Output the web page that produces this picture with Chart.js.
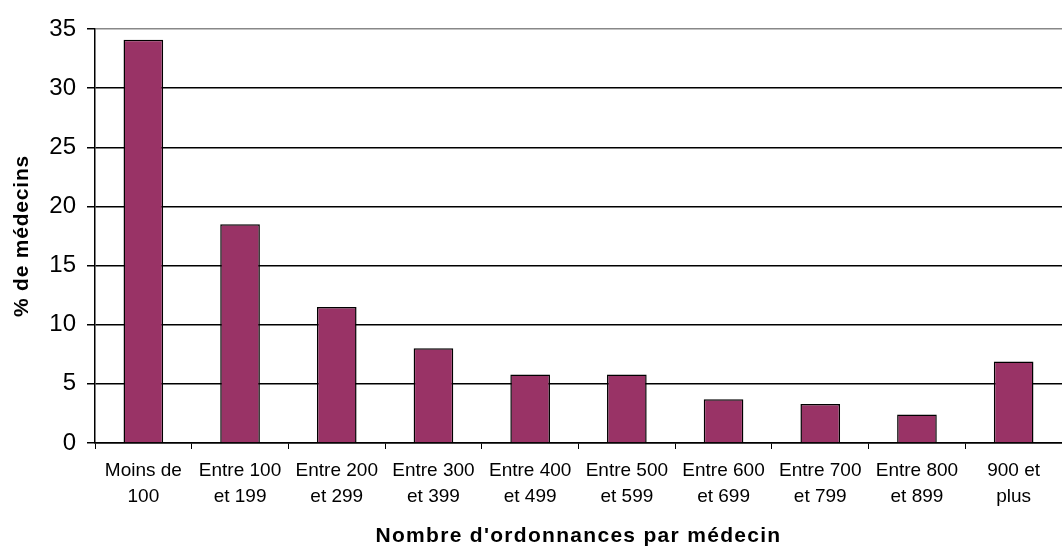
<!DOCTYPE html>
<html>
<head>
<meta charset="utf-8">
<script src="https://cdn.jsdelivr.net/npm/chart.js@4/dist/chart.umd.min.js"></script>
<style>
html,body{margin:0;padding:0;background:#fff;}
#wrap{width:1062px;height:547px;position:relative;}
</style>
</head>
<body>
<div id="wrap"><canvas id="c"></canvas></div>
<script>
const categories = [
  ["Moins de", "100"],
  ["Entre 100", "et 199"],
  ["Entre 200", "et 299"],
  ["Entre 300", "et 399"],
  ["Entre 400", "et 499"],
  ["Entre 500", "et 599"],
  ["Entre 600", "et 699"],
  ["Entre 700", "et 799"],
  ["Entre 800", "et 899"],
  ["900 et", "plus"]
];
const pctMedecins = [34.1, 18.5, 11.5, 8.0, 5.8, 5.8, 3.7, 3.3, 2.4, 6.9];
const yTitle = "% de médecins";
const xTitle = "Nombre d'ordonnances par médecin";

const FONT = "'Liberation Sans', Arial, sans-serif";

function spacedTitle(s, spacing) {
  if (s._spacedTitle) return;
  const orig = s.drawTitle.bind(s);
  s.drawTitle = function () {
    const ctx = this.ctx;
    ctx.save();
    ctx.letterSpacing = spacing;
    orig();
    ctx.restore();
  };
  s._spacedTitle = true;
}

new Chart(document.getElementById('c'), {
  type: 'bar',
  data: {
    labels: categories,
    datasets: [{
      data: pctMedecins,
      backgroundColor: '#993366',
      borderColor: '#000',
      borderWidth: 1.5,
      borderSkipped: 'start',
      barPercentage: 0.41,
      categoryPercentage: 1
    }]
  },
  options: {
    responsive: true,
    maintainAspectRatio: false,
    animation: false,
    layout: { padding: { top: 29, right: 0, left: 0, bottom: 0 } },
    plugins: { legend: { display: false }, tooltip: { enabled: false } },
    scales: {
      x: {
        offset: true,
        grid: { display: true, drawOnChartArea: false, color: '#000', tickColor: '#000', tickLength: 6, offset: true },
        border: { display: true, color: '#000', width: 1.5 },
        ticks: { color: '#000', font: { family: FONT, size: 19, lineHeight: 1.4 }, padding: 8, maxRotation: 0, autoSkip: false },
        title: { display: true, text: xTitle, color: '#000', font: { family: FONT, size: 21, weight: 'bold', lineHeight: 1 }, padding: { top: 0, bottom: 0 } },
        afterFit: (s) => { s.height = 104; spacedTitle(s, '1.3px'); }
      },
      y: {
        min: 0, max: 35,
        ticks: { stepSize: 5, color: '#000', font: { family: FONT, size: 24 }, padding: 11 },
        grid: {
          color: (ctx) => (ctx.tick && ctx.tick.value === 35) ? '#888' : '#000',
          tickColor: '#000',
          tickLength: 8,
          lineWidth: 1.5
        },
        border: { display: true, color: '#000', width: 1.5 },
        title: { display: true, text: yTitle, color: '#000', font: { family: FONT, size: 21, weight: 'bold', lineHeight: 1.2 }, padding: { top: 10, bottom: 0 } },
        afterFit: (s) => { s.width = 95; spacedTitle(s, '0.8px'); }
      }
    }
  }
});
</script>
</body>
</html>
